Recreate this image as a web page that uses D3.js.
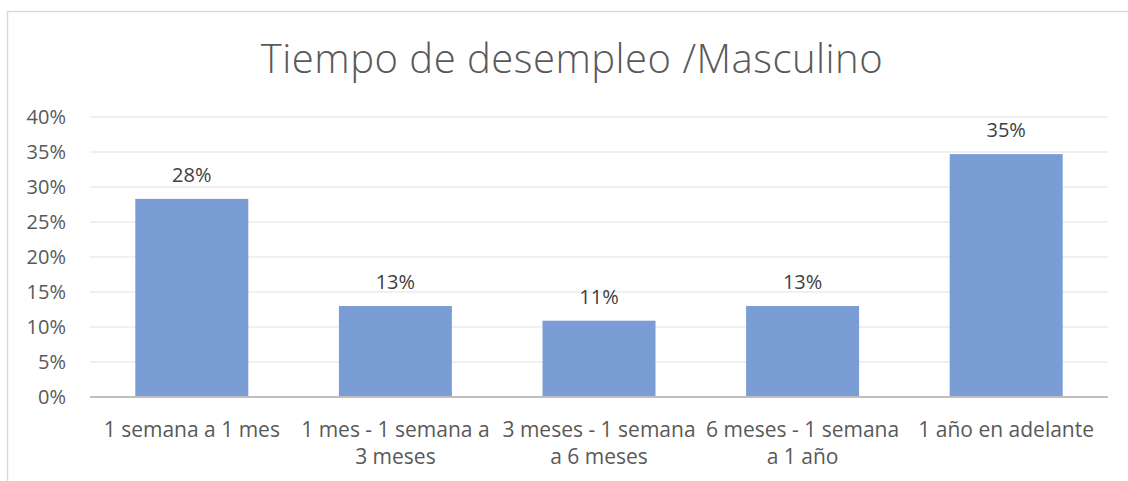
<!DOCTYPE html>
<html>
<head>
<meta charset="utf-8">
<script src="https://cdn.jsdelivr.net/npm/d3@7"></script>
<style>
  html, body { margin: 0; padding: 0; background: #fff; }
  svg { display: block; font-family: "Open Sans", "DejaVu Sans", sans-serif; }
</style>
</head>
<body>
<svg id="chart" width="1128" height="481"></svg>
<script>
const title = 'Tiempo de desempleo /Masculino'
const categories = [
  '1 semana a 1 mes',
  '1 mes - 1 semana a 3 meses',
  '3 meses - 1 semana a 6 meses',
  '6 meses - 1 semana a 1 año',
  '1 año en adelante'
]
const values = [0.283, 0.130, 0.109, 0.130, 0.347]
const yTicks = [0, 0.05, 0.10, 0.15, 0.20, 0.25, 0.30, 0.35, 0.40]

const width = 1128, height = 481
const margin = { top: 117, right: 20, bottom: 84, left: 90 }

const svg = d3.select('#chart')

// Chart frame (runs past the right and bottom of the picture)
svg.append('rect')
  .attr('x', 7.5).attr('y', 11.5)
  .attr('width', width + 20).attr('height', height + 20)
  .attr('fill', '#fff')
  .attr('stroke', '#d9d9d9')
  .attr('stroke-width', 1.5)

const x = d3.scaleBand()
  .domain(categories)
  .range([margin.left, width - margin.right])
  .paddingInner(0.445)
  .paddingOuter(0.2225)

const y = d3.scaleLinear()
  .domain([0, 0.40])
  .range([height - margin.bottom, margin.top])

// Gridlines
svg.append('g')
  .selectAll('line')
  .data(yTicks.filter(d => d > 0))
  .join('line')
  .attr('x1', margin.left).attr('x2', width - margin.right)
  .attr('y1', d => y(d)).attr('y2', d => y(d))
  .attr('stroke', '#ebebeb')
  .attr('stroke-width', 1.5)

// Y axis labels
const yAxis = svg.append('g')
  .attr('transform', `translate(${margin.left},0)`)
  .call(d3.axisLeft(y).tickValues(yTicks).tickFormat(d3.format('.0%')).tickSize(0).tickPadding(24))
yAxis.select('.domain').remove()
yAxis.selectAll('text')
  .attr('fill', '#595959')
  .style('font-size', '20px')
  .style('font-family', '"Open Sans", sans-serif')

// Bars
svg.append('g')
  .selectAll('rect')
  .data(values)
  .join('rect')
  .attr('x', (d, i) => x(categories[i]))
  .attr('y', d => y(d))
  .attr('width', x.bandwidth())
  .attr('height', d => y(0) - y(d))
  .attr('fill', '#7b9dd5')

// Data labels
svg.append('g')
  .selectAll('text')
  .data(values)
  .join('text')
  .attr('x', (d, i) => x(categories[i]) + x.bandwidth() / 2)
  .attr('y', d => y(d) - 17)
  .attr('text-anchor', 'middle')
  .attr('fill', '#404040')
  .style('font-size', '20px')
  .text(d => d3.format('.0%')(d))

// X axis line
svg.append('line')
  .attr('x1', margin.left).attr('x2', width - margin.right)
  .attr('y1', y(0)).attr('y2', y(0))
  .attr('stroke', '#bfbfbf')
  .attr('stroke-width', 2)

// Category labels, wrapped to the band step
const step = x.step()
const catG = svg.append('g')
categories.forEach(c => {
  const cx = x(c) + x.bandwidth() / 2
  const t = catG.append('text')
    .attr('x', cx)
    .attr('y', y(0) + 40)
    .attr('text-anchor', 'middle')
    .attr('fill', '#595959')
    .style('font-size', '21px')
  const words = c.split(' ')
  let line = []
  let tspan = t.append('tspan').attr('x', cx).attr('dy', 0)
  for (const w of words) {
    line.push(w)
    tspan.text(line.join(' '))
    if (tspan.node().getComputedTextLength() > step && line.length > 1) {
      line.pop()
      tspan.text(line.join(' '))
      line = [w]
      tspan = t.append('tspan')
        .attr('x', cx)
        .attr('dy', 27)
        .text(w)
    }
  }
})

// Title
svg.append('text')
  .attr('x', 572)
  .attr('y', 73)
  .attr('text-anchor', 'middle')
  .attr('fill', '#595959')
  .style('font-size', '40px')
  .style('font-weight', 300)
  .style('letter-spacing', '0.5px')
  .text(title)
</script>
</body>
</html>
